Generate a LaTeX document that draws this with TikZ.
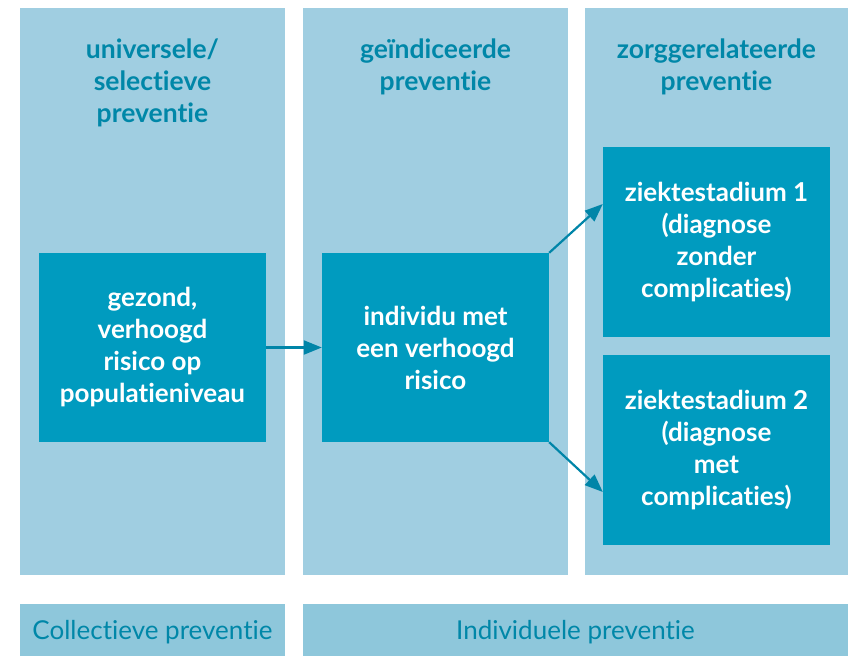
\documentclass[tikz,border=0pt]{standalone}
\usepackage{fontspec}
\setmainfont{Lato}[Ligatures={NoCommon}]
\usetikzlibrary{arrows.meta}
\definecolor{colbg}{HTML}{A0CEE1}
\definecolor{barbg}{HTML}{8EC7DB}
\definecolor{boxbg}{HTML}{009BBF}
\definecolor{headtxt}{HTML}{0087A8}
\definecolor{arrowc}{HTML}{0085A8}
\tikzset{
  colrect/.style={fill=colbg, draw=none},
  barrect/.style={fill=barbg, draw=none},
  headtext/.style={text=headtxt, font=\fontsize{26.5}{32}\selectfont\bfseries, align=center},
  bartext/.style={text=headtxt, font=\fontsize{26}{30}\selectfont},
  stagebox/.style={fill=boxbg, draw=none, text=white, font=\fontsize{26}{32}\selectfont\bfseries, align=center, inner sep=0pt},
  flow/.style={draw=arrowc, line width=2.2pt, -{Triangle[length=18pt,width=14pt]}},
}
\begin{document}
\begin{tikzpicture}[x=1pt,y=-1pt]
\useasboundingbox (0,0) rectangle (852,656);
% columns
\fill[colrect] (20,8) rectangle (285,575);
\fill[colrect] (303,8) rectangle (568,575);
\fill[colrect] (585,8) rectangle (848,575);
% bottom bars
\fill[barrect] (20,604) rectangle (285,656);
\fill[barrect] (303,604) rectangle (848,656);
\node[bartext] (b1) at (152.5,632) {Collectieve preventie};
\node[bartext] (b2) at (575.5,632) {Individuele preventie};
% headers
\node[headtext] (h1) at (152.5,83) {universele/\\selectieve\\preventie};
\node[headtext] (h2) at (435.5,67) {geïndiceerde\\preventie};
\node[headtext] (h3) at (716.5,67) {zorggerelateerde\\preventie};
% boxes
\node[stagebox, minimum width=227pt, minimum height=189pt] (s1) at (152.5,347.5) {gezond,\\verhoogd\\risico op\\populatieniveau};
\node[stagebox, minimum width=227pt, minimum height=189pt] (s2) at (435.5,347.5) {individu met\\een verhoogd\\risico};
\node[stagebox, minimum width=227pt, minimum height=190pt] (s3) at (716.5,242) {ziektestadium 1\\(diagnose\\zonder\\complicaties)};
\node[stagebox, minimum width=227pt, minimum height=190pt] (s4) at (716.5,450) {ziektestadium 2\\(diagnose\\met\\complicaties)};
% arrows
\draw[flow] (s1.east) -- (s2.west);
\draw[flow] (s2.north east) -- (s3.west |- 0,204);
\draw[flow] (s2.south east) -- (s4.west |- 0,492);
\end{tikzpicture}
\end{document}
